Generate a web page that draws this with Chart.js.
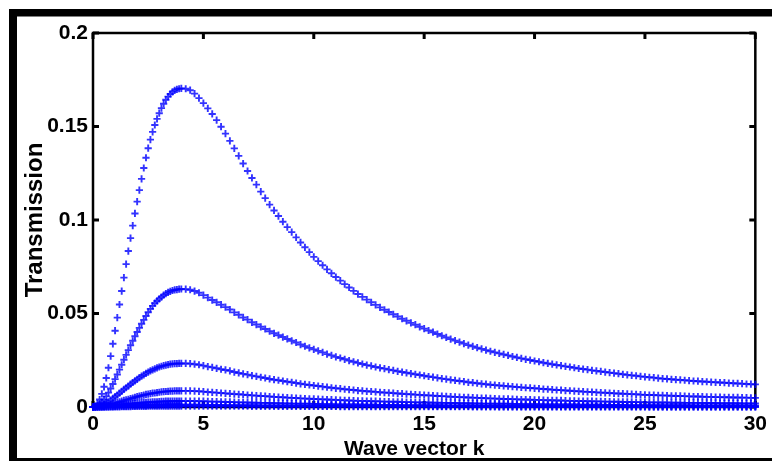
<!DOCTYPE html>
<html>
<head>
<meta charset="utf-8">
<script src="https://cdn.jsdelivr.net/npm/chart.js@4.4.1/dist/chart.umd.min.js"></script>
<style>
html,body{margin:0;padding:0;background:#fff;}
canvas{display:block;}
</style>
</head>
<body>
<canvas id="c" width="772" height="461"></canvas>
<script>
// Wave vector samples (fine steps on the rising edge, coarser on the tail)
const waveK = [
0,0.1,0.2,0.3,0.4,0.5,0.6,0.7,0.8,0.9,
1,1.1,1.2,1.3,1.4,1.5,1.6,1.7,1.8,1.9,
2,2.1,2.2,2.3,2.4,2.5,2.6,2.7,2.8,2.9,
3,3.1,3.2,3.3,3.4,3.5,3.6,3.7,3.8,3.9,
4,
4.2,4.4,4.6,4.8,5,
5.2,5.4,5.6,5.8,6,
6.2,6.4,6.6,6.8,7,
7.2,7.4,7.6,7.8,8,
8.2,8.4,8.6,8.8,9,
9.2,9.4,9.6,9.8,10,
10.2,10.4,10.6,10.8,11,
11.2,11.4,11.6,11.8,12,
12.2,12.4,12.6,12.8,13,
13.2,13.4,13.6,13.8,14,
14.2,14.4,14.6,14.8,15,
15.2,15.4,15.6,15.8,16,
16.2,16.4,16.6,16.8,17,
17.2,17.4,17.6,17.8,18,
18.2,18.4,18.6,18.8,19,
19.2,19.4,19.6,19.8,20,
20.2,20.4,20.6,20.8,21,
21.2,21.4,21.6,21.8,22,
22.2,22.4,22.6,22.8,23,
23.2,23.4,23.6,23.8,24,
24.2,24.4,24.6,24.8,25,
25.2,25.4,25.6,25.8,26,
26.2,26.4,26.6,26.8,27,
27.2,27.4,27.6,27.8,28,
28.2,28.4,28.6,28.8,29,
29.2,29.4,29.6,29.8,30
];

// Transmission curves, strongest first
const trans1 = [
0,.0005,.0018,.0040,.0070,.0108,.0155,.0210,.0272,.0338,
.0408,.0478,.0548,.0620,.0692,.0764,.0834,.0903,.0970,.1035,
.1098,.1160,.1220,.1278,.1333,.1384,.1430,.1471,.1508,.1541,
.1571,.1598,.1622,.1643,.1660,.1674,.1685,.1693,.1699,.1702,
.1704,
.1702,.1694,.1676,.1652,.1625,
.1597,.1567,.1534,.1499,.1462,
.1423,.1383,.1343,.1302,.1262,
.1225,.1189,.1152,.1117,.1082,
.1051,.1021,.0991,.0962,.0935,
.0907,.0880,.0854,.0828,.0803,
.0780,.0758,.0736,.0715,.0695,
.0676,.0657,.0639,.0621,.0604,
.0589,.0574,.0560,.0546,.0533,
.0520,.0508,.0496,.0484,.0472,
.0461,.0450,.0440,.0429,.0419,
.0409,.0400,.0390,.0381,.0372,
.0363,.0355,.0347,.0339,.0331,
.0324,.0317,.0311,.0304,.0298,
.0292,.0287,.0281,.0276,.0270,
.0265,.0260,.0255,.0251,.0246,
.0242,.0237,.0233,.0229,.0225,
.0221,.0217,.0214,.0210,.0206,
.0203,.0200,.0196,.0193,.0190,
.0187,.0184,.0181,.0178,.0175,
.0172,.0169,.0167,.0164,.0161,
.0159,.0157,.0154,.0152,.0150,
.0148,.0146,.0145,.0143,.0141,
.0139,.0138,.0136,.0135,.0133,
.0132,.0131,.0130,.0128,.0127,
.0126,.0125,.0123,.0122,.0121
];

const trans2 = [
0,.0002,.0007,.0015,.0026,.0039,.0057,.0077,.0099,.0123,
.0149,.0174,.0200,.0226,.0253,.0279,.0304,.0330,.0354,.0378,
.0401,.0423,.0445,.0466,.0487,.0507,.0525,.0541,.0555,.0567,
.0578,.0588,.0598,.0606,.0613,.0618,.0623,.0626,.0628,.0630,
.0631,
.0630,.0627,.0620,.0611,.0598,
.0585,.0572,.0560,.0547,.0534,
.0521,.0506,.0493,.0479,.0467,
.0453,.0441,.0429,.0417,.0405,
.0394,.0384,.0374,.0364,.0354,
.0345,.0334,.0325,.0316,.0308,
.0300,.0292,.0283,.0276,.0268,
.0262,.0255,.0248,.0242,.0236,
.0230,.0224,.0220,.0214,.0209,
.0205,.0200,.0196,.0191,.0187,
.0183,.0179,.0175,.0171,.0167,
.0163,.0160,.0156,.0152,.0149,
.0145,.0142,.0139,.0136,.0132,
.0130,.0127,.0124,.0122,.0119,
.0117,.0115,.0113,.0111,.0109,
.0107,.0105,.0103,.0102,.0100,
.0098,.0096,.0095,.0093,.0091,
.0090,.0088,.0087,.0085,.0084,
.0082,.0081,.0080,.0078,.0077,
.0076,.0075,.0073,.0072,.0071,
.0070,.0069,.0068,.0066,.0065,
.0064,.0064,.0062,.0062,.0061,
.0060,.0059,.0059,.0058,.0057,
.0056,.0056,.0055,.0054,.0054,
.0053,.0053,.0052,.0052,.0051,
.0051,.0050,.0050,.0049,.0049
];

const trans3 = [
0,.0001,.0003,.0006,.0010,.0014,.0021,.0028,.0037,.0046,
.0055,.0064,.0074,.0084,.0094,.0103,.0112,.0122,.0131,.0140,
.0148,.0157,.0165,.0172,.0180,.0187,.0193,.0199,.0204,.0209,
.0214,.0218,.0221,.0224,.0227,.0229,.0231,.0232,.0232,.0233,
.0233,
.0233,.0232,.0229,.0226,.0221,
.0216,.0212,.0207,.0202,.0198,
.0193,.0187,.0182,.0177,.0173,
.0168,.0164,.0159,.0155,.0150,
.0146,.0143,.0139,.0135,.0132,
.0128,.0124,.0121,.0118,.0115,
.0112,.0109,.0106,.0103,.0100,
.0098,.0095,.0093,.0091,.0088,
.0086,.0084,.0083,.0081,.0079,
.0077,.0076,.0074,.0072,.0071,
.0069,.0068,.0066,.0065,.0063,
.0062,.0061,.0059,.0058,.0057,
.0055,.0054,.0053,.0052,.0051,
.0050,.0049,.0048,.0047,.0046,
.0045,.0044,.0043,.0043,.0042,
.0041,.0040,.0040,.0039,.0038,
.0038,.0037,.0036,.0036,.0035,
.0035,.0034,.0033,.0033,.0032,
.0032,.0031,.0031,.0030,.0030,
.0029,.0029,.0028,.0028,.0027,
.0027,.0027,.0026,.0026,.0025,
.0025,.0025,.0024,.0024,.0024,
.0023,.0023,.0023,.0022,.0022,
.0022,.0022,.0021,.0021,.0021,
.0021,.0020,.0020,.0020,.0020,
.0020,.0019,.0019,.0019,.0019
];

const trans4 = [
0,0,.0001,.0002,.0004,.0005,.0008,.0010,.0014,.0017,
.0020,.0024,.0027,.0031,.0035,.0038,.0041,.0045,.0048,.0052,
.0055,.0058,.0061,.0064,.0067,.0069,.0071,.0074,.0075,.0077,
.0079,.0081,.0082,.0083,.0084,.0085,.0085,.0086,.0086,.0086,
.0086,
.0086,.0086,.0085,.0084,.0082,
.0080,.0078,.0077,.0075,.0073,
.0071,.0069,.0068,.0066,.0064,
.0062,.0061,.0059,.0058,.0056,
.0054,.0053,.0052,.0050,.0049,
.0048,.0046,.0045,.0044,.0043,
.0042,.0041,.0040,.0039,.0038,
.0037,.0036,.0035,.0034,.0033,
.0033,.0032,.0031,.0031,.0030,
.0029,.0029,.0028,.0028,.0027,
.0026,.0026,.0025,.0025,.0024,
.0024,.0023,.0023,.0022,.0022,
.0021,.0021,.0020,.0020,.0020,
.0019,.0019,.0018,.0018,.0018,
.0017,.0017,.0017,.0017,.0016,
.0016,.0015,.0015,.0015,.0015,
.0015,.0014,.0014,.0014,.0014,
.0013,.0013,.0013,.0013,.0012,
.0012,.0012,.0012,.0012,.0012,
.0011,.0011,.0011,.0011,.0011,
.0010,.0010,.0010,.0010,.0010,
.0010,.0010,.0009,.0009,.0009,
.0009,.0009,.0009,.0009,.0009,
.0008,.0008,.0008,.0008,.0008,
.0008,.0008,.0008,.0008,.0008,
.0008,.0007,.0007,.0007,.0007
];

const trans5 = [
0,0,0,.0001,.0001,.0002,.0003,.0004,.0005,.0006,
.0007,.0009,.0010,.0011,.0013,.0014,.0015,.0017,.0018,.0019,
.0020,.0021,.0023,.0024,.0025,.0026,.0026,.0027,.0028,.0028,
.0029,.0030,.0030,.0031,.0031,.0031,.0032,.0032,.0032,.0032,
.0032,
.0032,.0032,.0032,.0031,.0031,
.0030,.0029,.0029,.0028,.0027,
.0027,.0026,.0025,.0025,.0024,
.0023,.0023,.0022,.0022,.0021,
.0020,.0020,.0019,.0019,.0018,
.0018,.0017,.0017,.0017,.0016,
.0016,.0015,.0015,.0015,.0014,
.0014,.0014,.0013,.0013,.0013,
.0012,.0012,.0012,.0012,.0011,
.0011,.0011,.0011,.0011,.0010,
.0010,.0010,.0010,.0010,.0009,
.0009,.0009,.0009,.0009,.0008,
.0008,.0008,.0008,.0008,.0008,
.0007,.0007,.0007,.0007,.0007,
.0007,.0007,.0006,.0006,.0006,
.0006,.0006,.0006,.0006,.0006,
.0006,.0005,.0005,.0005,.0005,
.0005,.0005,.0005,.0005,.0005,
.0005,.0005,.0004,.0004,.0004,
.0004,.0004,.0004,.0004,.0004,
.0004,.0004,.0004,.0004,.0004,
.0004,.0004,.0003,.0003,.0003,
.0003,.0003,.0003,.0003,.0003,
.0003,.0003,.0003,.0003,.0003,
.0003,.0003,.0003,.0003,.0003,
.0003,.0003,.0003,.0003,.0003
];

const trans6 = [
0,0,0,0,0,.0001,.0001,.0001,.0002,.0002,
.0003,.0003,.0004,.0004,.0005,.0005,.0006,.0006,.0007,.0007,
.0008,.0008,.0009,.0009,.0009,.0010,.0010,.0010,.0010,.0011,
.0011,.0011,.0011,.0012,.0012,.0012,.0012,.0012,.0012,.0012,
.0012,
.0012,.0012,.0012,.0012,.0012,
.0011,.0011,.0011,.0011,.0010,
.0010,.0010,.0010,.0009,.0009,
.0009,.0009,.0008,.0008,.0008,
.0008,.0007,.0007,.0007,.0007,
.0007,.0007,.0006,.0006,.0006,
.0006,.0006,.0006,.0006,.0005,
.0005,.0005,.0005,.0005,.0005,
.0005,.0005,.0005,.0004,.0004,
.0004,.0004,.0004,.0004,.0004,
.0004,.0004,.0004,.0004,.0004,
.0003,.0003,.0003,.0003,.0003,
.0003,.0003,.0003,.0003,.0003,
.0003,.0003,.0003,.0003,.0003,
.0003,.0002,.0002,.0002,.0002,
.0002,.0002,.0002,.0002,.0002,
.0002,.0002,.0002,.0002,.0002,
.0002,.0002,.0002,.0002,.0002,
.0002,.0002,.0002,.0002,.0002,
.0002,.0002,.0002,.0002,.0002,
.0002,.0002,.0002,.0002,.0002,
.0001,.0001,.0001,.0001,.0001,
.0001,.0001,.0001,.0001,.0001,
.0001,.0001,.0001,.0001,.0001,
.0001,.0001,.0001,.0001,.0001,
.0001,.0001,.0001,.0001,.0001
];

const trans7 = [
0,0,0,0,0,0,0,0,.0001,.0001,
.0001,.0001,.0001,.0002,.0002,.0002,.0002,.0002,.0003,.0003,
.0003,.0003,.0003,.0003,.0003,.0004,.0004,.0004,.0004,.0004,
.0004,.0004,.0004,.0004,.0004,.0004,.0004,.0004,.0004,.0004,
.0004,
.0004,.0004,.0004,.0004,.0004,
.0004,.0004,.0004,.0004,.0004,
.0004,.0004,.0004,.0004,.0004,
.0003,.0003,.0003,.0003,.0003,
.0003,.0003,.0003,.0003,.0003,
.0003,.0003,.0003,.0003,.0003,
.0003,.0003,.0003,.0003,.0003,
.0002,.0002,.0002,.0002,.0002,
.0002,.0002,.0002,.0002,.0002,
.0002,.0002,.0002,.0002,.0002,
.0002,.0002,.0002,.0002,.0002,
.0002,.0002,.0002,.0002,.0002,
.0002,.0002,.0002,.0002,.0002,
.0001,.0001,.0001,.0001,.0001,
.0001,.0001,.0001,.0001,.0001,
.0001,.0001,.0001,.0001,.0001,
.0001,.0001,.0001,.0001,.0001,
.0001,.0001,.0001,.0001,.0001,
.0001,.0001,.0001,.0001,.0001,
.0001,.0001,.0001,.0001,.0001,
.0001,.0001,.0001,.0001,.0001,
.0001,.0001,.0001,.0001,.0001,
.0001,.0001,.0001,.0001,.0001,
.0001,.0001,.0001,.0001,.0001,
.0001,.0001,.0001,.0001,.0001,
.0001,.0001,.0001,.0001,.0001
];

const xTickValues = [0,5,10,15,20,25,30];
const xTickLabels = ['0','5','10','15','20','25','30'];
const yTickValues = [0,0.05,0.1,0.15,0.2];
const yTickLabels = ['0','0.05','0.1','0.15','0.2'];
const xTitle = 'Wave vector k';
const yTitle = 'Transmission';

const FONT = '"Liberation Sans", Arial, sans-serif';
const curves = [trans1, trans2, trans3, trans4, trans5, trans6, trans7];

const datasets = curves.map(vals => ({
  data: waveK.map((k, i) => ({ x: k, y: vals[i] })),
  showLine: false,
  pointStyle: 'cross',
  pointRadius: 3.6,
  pointHoverRadius: 3.6,
  pointBorderWidth: 1.9,
  borderColor: 'rgba(0,0,255,0.8)',
  backgroundColor: 'rgba(0,0,255,0.8)',
  clip: false
}));

// Outer black frame, boxed axes with inward ticks, and axis titles
const framePlugin = {
  id: 'frame',
  beforeDraw(chart) {
    const ctx = chart.ctx;
    ctx.save();
    ctx.fillStyle = '#fff';
    ctx.fillRect(0, 0, chart.width, chart.height);
    ctx.fillStyle = '#000';
    ctx.fillRect(9, 9, 763, 7.5);
    ctx.fillRect(9, 9, 8, 452);
    ctx.fillRect(9, 458, 763, 3);
    ctx.restore();
  },
  beforeDatasetsDraw(chart) {
    const { ctx, chartArea: a, scales: { x, y } } = chart;
    ctx.save();
    ctx.strokeStyle = '#000';
    ctx.lineWidth = 2.5;
    ctx.strokeRect(a.left, a.top, a.right - a.left, a.bottom - a.top);
    ctx.lineWidth = 3;
    ctx.beginPath();
    xTickValues.forEach(v => {
      const p = x.getPixelForValue(v);
      ctx.moveTo(p, a.bottom); ctx.lineTo(p, a.bottom - 6);
      ctx.moveTo(p, a.top); ctx.lineTo(p, a.top + 6);
    });
    yTickValues.forEach(v => {
      const p = y.getPixelForValue(v);
      ctx.moveTo(a.left, p); ctx.lineTo(a.left + 6, p);
      ctx.moveTo(a.right, p); ctx.lineTo(a.right - 6, p);
    });
    ctx.stroke();
    ctx.restore();
  },
  afterDraw(chart) {
    const { ctx, chartArea: a } = chart;
    ctx.save();
    ctx.fillStyle = '#000';
    ctx.textAlign = 'center';
    ctx.textBaseline = 'alphabetic';
    ctx.font = 'bold 21px ' + FONT;
    ctx.fillText(xTitle, (a.left + a.right) / 2 - 10, 455);
    ctx.translate(42, (a.top + a.bottom) / 2);
    ctx.rotate(-Math.PI / 2);
    ctx.font = 'bold 24px ' + FONT;
    ctx.fillText(yTitle, 0, 0);
    ctx.restore();
  }
};

const tickFont = { family: FONT, size: 21, weight: 'bold' };

new Chart(document.getElementById('c'), {
  type: 'scatter',
  data: { datasets },
  options: {
    responsive: false,
    devicePixelRatio: 1,
    animation: false,
    events: [],
    layout: { padding: { top: 33, right: 12, left: 0, bottom: 0 } },
    plugins: { legend: { display: false }, tooltip: { enabled: false } },
    scales: {
      x: {
        type: 'linear', min: 0, max: 30,
        afterFit(s) { s.height = 54; },
        afterBuildTicks(s) { s.ticks = xTickValues.map(v => ({ value: v })); },
        grid: { display: false, drawTicks: false },
        border: { display: false },
        ticks: { autoSkip: false, maxRotation: 0, padding: 5, color: '#000', font: tickFont,
                 callback: (v, i) => xTickLabels[i] }
      },
      y: {
        type: 'linear', min: 0, max: 0.2,
        afterFit(s) { s.width = 93; },
        afterBuildTicks(s) { s.ticks = yTickValues.map(v => ({ value: v })); },
        grid: { display: false, drawTicks: false },
        border: { display: false },
        ticks: { autoSkip: false, padding: 5, color: '#000', font: tickFont,
                 callback: (v, i) => yTickLabels[i] }
      }
    }
  },
  plugins: [framePlugin]
});
</script>
</body>
</html>
